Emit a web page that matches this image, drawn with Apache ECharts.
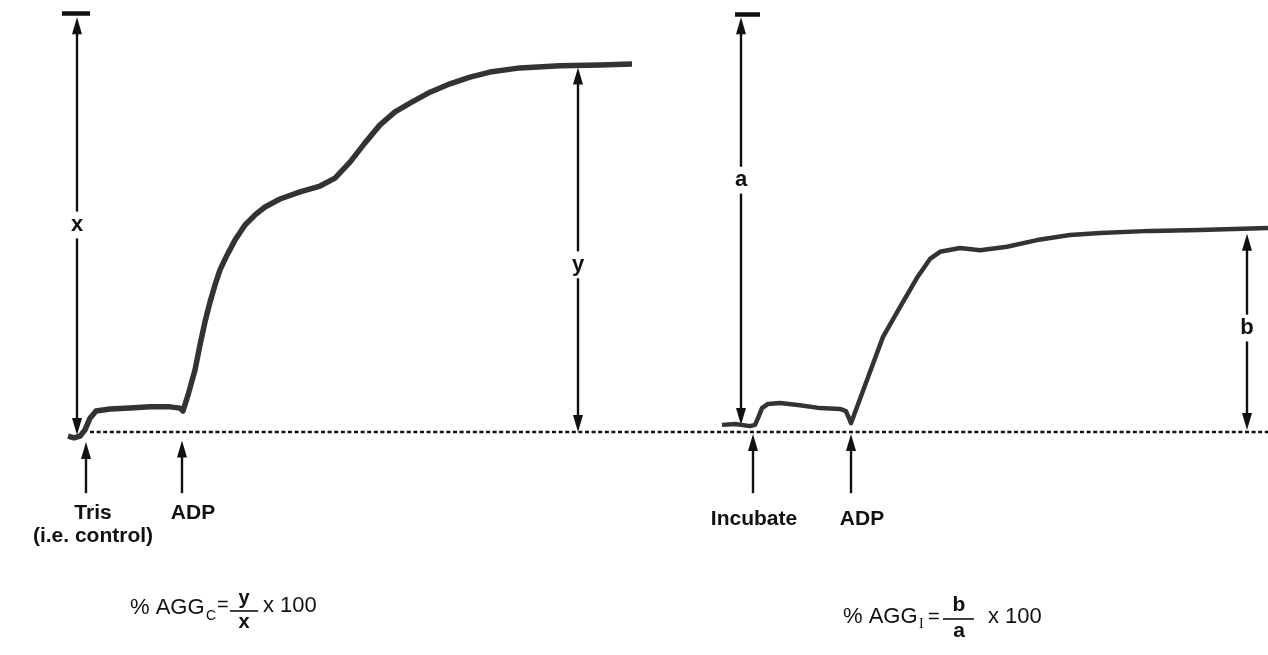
<!DOCTYPE html>
<html>
<head>
<meta charset="utf-8">
<title>ADP aggregation traces</title>
<script src="https://cdn.jsdelivr.net/npm/echarts@6/dist/echarts.min.js"></script>
<style>
  html, body { margin: 0; padding: 0; background: #fff; }
  #chart { width: 1268px; height: 655px; }
</style>
</head>
<body>
<div id="chart"></div>
<script>
// time runs left to right in chart units, response is % of full scale (baseline = 0, full = 100)
const controlTime = [68, 74, 80, 85, 90, 96, 110, 130, 150, 170, 180, 183, 188, 195, 200, 205, 210, 215, 220, 227, 235, 245, 255, 265, 280, 300, 320, 335, 350, 365, 380, 395, 410, 430, 450, 470, 490, 520, 560, 600, 632];
const controlResp = [-1.0, -1.4, -1.0, 0.5, 3.3, 5.0, 5.5, 5.7, 6.0, 6.0, 5.7, 5.0, 8.8, 14.8, 20.8, 26.3, 31.0, 35.1, 38.7, 42.2, 45.8, 49.4, 51.8, 53.7, 55.6, 57.3, 58.7, 60.6, 64.4, 69.0, 73.3, 76.4, 78.5, 81.1, 83.1, 84.7, 85.9, 86.9, 87.4, 87.6, 87.8];

const inhibTime = [722, 735, 750, 755, 758, 762, 768, 780, 800, 820, 840, 846, 851, 867, 883, 900, 917, 930, 940, 960, 980, 1007, 1037, 1070, 1100, 1150, 1200, 1268];
const inhibResp = [1.7, 1.9, 1.4, 1.7, 3.3, 5.7, 6.7, 6.9, 6.4, 5.7, 5.5, 5.0, 2.1, 12.4, 22.7, 29.8, 36.8, 41.3, 43.0, 43.9, 43.4, 44.2, 45.8, 47.0, 47.5, 48.0, 48.2, 48.7];

const baselineTime = [90, 1268];

// full-scale marks at the top of each panel
const capStart = [62, 735];
const capEnd = [90, 760];
const capLevel = [100, 99.8];

// measured spans x, y, a, b
const spanNames = ['x', 'y', 'a', 'b'];
const spanTime = [77, 578, 741, 1247];
const spanLow = [-0.7, 0, 1.7, 0.5];
const spanHigh = [99.0, 87.0, 99.0, 47.3];
const spanMid = [49.4, 39.9, 60.1, 24.8];

// additions (upward arrows below the baseline)
const eventNames = ['Tris\n(i.e. control)', 'ADP', 'Incubate', 'ADP'];
const eventTime = [86, 182, 753, 851];
const eventTip = [-2.4, -2.0, -0.5, -0.5];
const eventTail = [-14.6, -14.6, -14.6, -14.6];

const INK = '#111';
const FONT = '"Liberation Sans", Arial, sans-serif';
const PX_PER_UNIT = 4.19;
const HEAD = [10, 17];
const headInset = HEAD[1] / 2 / PX_PER_UNIT;
const gap = 3.2;

const spanSegments = [];
spanNames.forEach(function (n, i) {
  spanSegments.push({ coords: [[spanTime[i], spanMid[i] + gap], [spanTime[i], spanHigh[i] - headInset]] });
  spanSegments.push({ coords: [[spanTime[i], spanMid[i] - gap], [spanTime[i], spanLow[i] + headInset]] });
});
const eventSegments = eventNames.map(function (n, i) {
  return { coords: [[eventTime[i], eventTail[i]], [eventTime[i], eventTip[i] - headInset]] };
});
const capSegments = capStart.map(function (s, i) {
  return { coords: [[s, capLevel[i]], [capEnd[i], capLevel[i]]] };
});

const eventLabelOffset = [[7, 0], [11, 0], [1, 6], [11, 6]];

function txt(text, x, y, size, extra) {
  return {
    type: 'text',
    style: Object.assign({
      text: text, x: x, y: y, fill: INK,
      fontFamily: FONT, fontSize: size,
      textAlign: 'left', textVerticalAlign: 'middle'
    }, extra || {})
  };
}
function bar(x1, x2, y) {
  return { type: 'line', shape: { x1: x1, y1: y, x2: x2, y2: y }, style: { stroke: INK, lineWidth: 1.6 } };
}

const chart = echarts.init(document.getElementById('chart'));
chart.setOption({
  animation: false,
  backgroundColor: '#fff',
  grid: { left: 0, right: 0, top: 0, bottom: 0 },
  xAxis: { type: 'value', min: 0, max: 1268, show: false },
  yAxis: { type: 'value', min: -53.22, max: 103.1, show: false },
  series: [
    {
      name: 'baseline', type: 'line', showSymbol: false,
      data: baselineTime.map(function (t) { return [t, 0]; }),
      lineStyle: { color: INK, width: 2.6, type: [4, 2.6] }
    },
    {
      name: 'control', type: 'line', showSymbol: false,
      data: controlTime.map(function (t, i) { return [t, controlResp[i]]; }),
      lineStyle: { color: '#333', width: 5.5, join: 'round' }
    },
    {
      name: 'inhibitor', type: 'line', showSymbol: false,
      data: inhibTime.map(function (t, i) { return [t, inhibResp[i]]; }),
      lineStyle: { color: '#333', width: 4.5, join: 'round' }
    },
    {
      name: 'caps', type: 'lines', coordinateSystem: 'cartesian2d',
      symbol: ['none', 'none'],
      data: capSegments,
      lineStyle: { color: INK, width: 4.5, opacity: 1 }
    },
    {
      name: 'spans', type: 'lines', coordinateSystem: 'cartesian2d',
      symbol: ['none', 'triangle'], symbolSize: [HEAD, HEAD],
      data: spanSegments,
      lineStyle: { color: INK, width: 2.4, opacity: 1 },
      itemStyle: { color: INK }
    },
    {
      name: 'events', type: 'lines', coordinateSystem: 'cartesian2d',
      symbol: ['none', 'triangle'], symbolSize: [HEAD, HEAD],
      data: eventSegments,
      lineStyle: { color: INK, width: 2.4, opacity: 1 },
      itemStyle: { color: INK }
    },
    {
      name: 'spanLabels', type: 'scatter', symbolSize: 1,
      itemStyle: { color: 'rgba(0,0,0,0)', opacity: 1 },
      data: spanNames.map(function (n, i) { return { name: n, value: [spanTime[i], spanMid[i]] }; }),
      label: {
        show: true, position: 'inside', formatter: '{b}',
        color: INK, fontFamily: FONT, fontSize: 22, fontWeight: 'bold'
      }
    },
    {
      name: 'eventLabels', type: 'scatter', symbolSize: 1,
      itemStyle: { color: 'rgba(0,0,0,0)', opacity: 1 },
      data: eventNames.map(function (n, i) {
        return { name: n, value: [eventTime[i], eventTail[i]], label: { offset: eventLabelOffset[i] } };
      }),
      label: {
        show: true, position: 'bottom', distance: 8, formatter: '{b}', align: 'center',
        color: INK, fontFamily: FONT, fontSize: 21, fontWeight: 'bold', lineHeight: 23
      }
    }
  ],
  graphic: [
    // % AGGc = y / x x 100
    txt('% AGG', 130, 608, 22),
    txt('C', 206, 616, 14),
    txt('=', 217, 605, 20),
    bar(230, 258, 611),
    txt('y', 244, 598, 20, { textAlign: 'center', fontWeight: 'bold' }),
    txt('x', 244, 622, 20, { textAlign: 'center', fontWeight: 'bold' }),
    txt('x 100', 263, 606, 22),
    // % AGGi = b / a x 100
    txt('% AGG', 843, 617, 22),
    txt('I', 919, 624, 14, { fontFamily: '"Liberation Serif", serif' }),
    txt('=', 928, 617, 20),
    bar(943, 974, 619),
    txt('b', 959, 605, 21, { textAlign: 'center', fontWeight: 'bold' }),
    txt('a', 959, 631, 21, { textAlign: 'center', fontWeight: 'bold' }),
    txt('x 100', 988, 617, 22)
  ]
});
</script>
</body>
</html>
